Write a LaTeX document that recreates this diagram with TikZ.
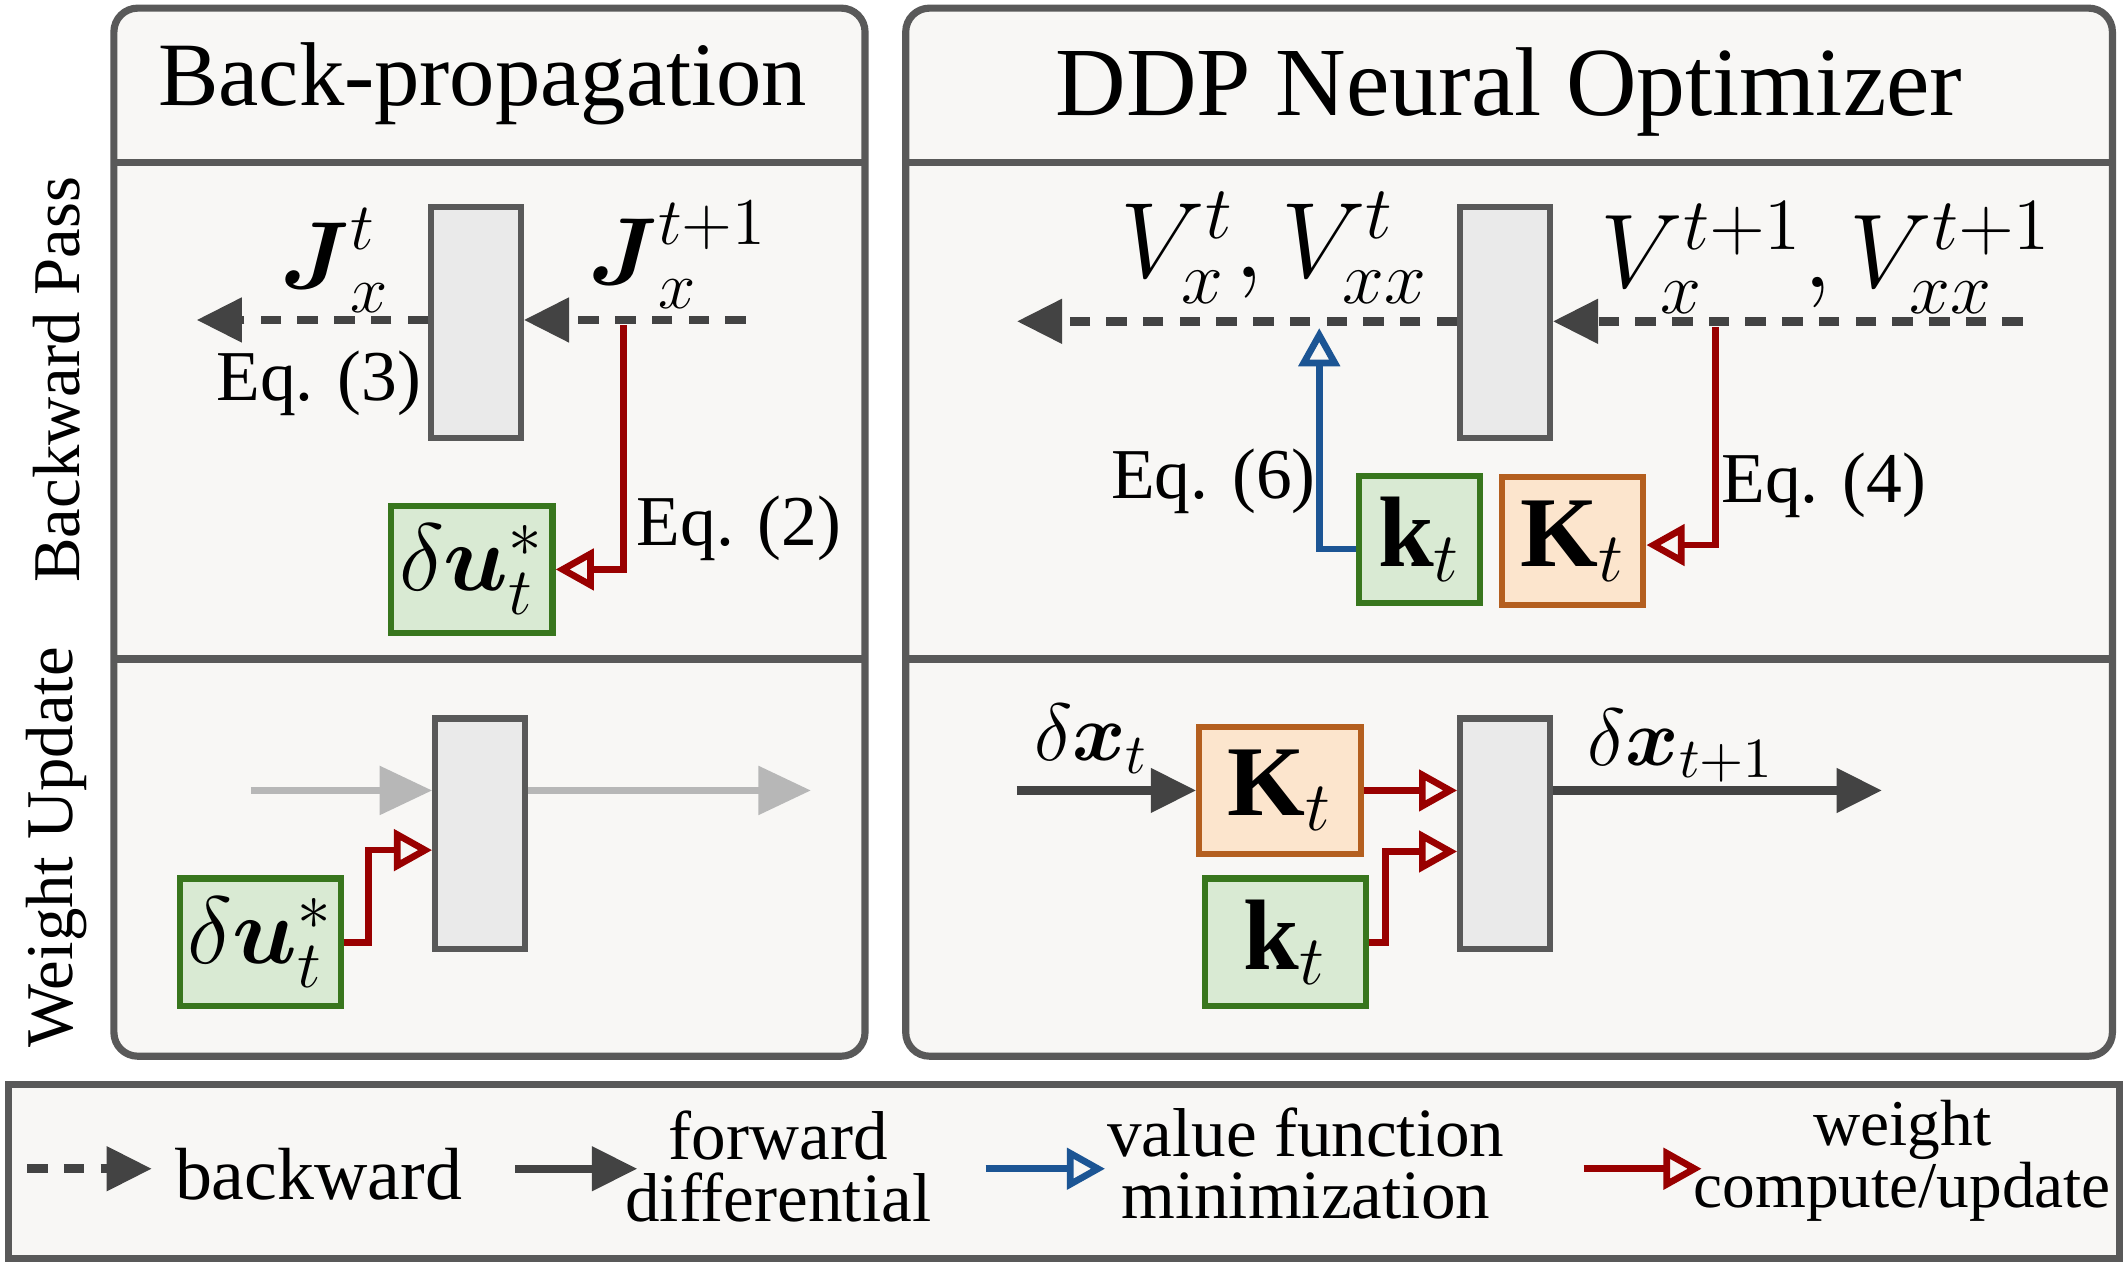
\RequirePackage{fix-cm}
\documentclass[tikz,border=0pt]{standalone}
\usepackage{amsmath, amsfonts}
\usepackage{fontspec}
\setmainfont{Liberation Serif}
\usetikzlibrary{positioning, arrows.meta, calc}

\definecolor{panelbg}{HTML}{F8F7F5}
\definecolor{edgegray}{HTML}{595959}
\definecolor{layerfill}{HTML}{EAEAEA}
\definecolor{arrowdark}{HTML}{434343}
\definecolor{arrowlight}{HTML}{B7B7B7}
\definecolor{kgreen}{HTML}{38761D}
\definecolor{kgreenbg}{HTML}{D9EAD3}
\definecolor{korange}{HTML}{B45F1F}
\definecolor{korangebg}{HTML}{FCE5CD}
\definecolor{updred}{HTML}{990000}
\definecolor{valblue}{HTML}{1C5594}

\begin{document}
\begin{tikzpicture}[x=0.01cm, y=-0.01cm]
\tikzset{
    every node/.style={align=center, inner sep=0pt},
    panel/.style={draw=edgegray, line width=1.5pt, fill=panelbg},
    layer/.style={draw=edgegray, line width=1.3pt, fill=layerfill, minimum width=0.66cm, minimum height=1.7cm},
    gbox/.style={draw=kgreen, fill=kgreenbg, line width=1.3pt, minimum width=1.19cm, minimum height=0.94cm},
    obox/.style={draw=korange, fill=korangebg, line width=1.3pt, minimum width=1.19cm, minimum height=0.94cm},
    bwd/.style={draw=arrowdark, line width=1.8pt, dash pattern=on 4.3pt off 3.4pt, -{Triangle[length=9.5pt, width=9pt]}},
    fwd/.style={draw=arrowdark, line width=1.7pt, -{Triangle[length=9.5pt, width=9pt]}},
    ghost/.style={draw=arrowlight, line width=1.4pt, -{Triangle[length=11pt, width=10pt]}},
    upd/.style={draw=updred, line width=1.4pt, -{Triangle[open, length=8pt, width=8.5pt]}},
    vmin/.style={draw=valblue, line width=1.4pt, -{Triangle[open, length=8pt, width=8.5pt]}},
    title/.style={font=\fontsize{20}{24}\selectfont},
    side/.style={font=\fontsize{14}{16}\selectfont, rotate=90},
    eqlbl/.style={font=\fontsize{15}{18}\selectfont},
    sym/.style={font=\fontsize{20}{24}\selectfont},
    boxsym/.style={font=\fontsize{21}{24}\selectfont},
    legend/.style={font=\fontsize{14.5}{13}\selectfont},
}

\useasboundingbox (0,0) rectangle (1568,934);
\fill[white] (0,0) rectangle (1568,934);

% panels
\draw[panel, rounded corners=5pt] (84,6) rectangle (638,779);
\draw[panel, rounded corners=5pt] (668,6) rectangle (1558,779);
\draw[panel] (6,800) rectangle (1563,928);
\draw[edgegray, line width=1.5pt] (84,120) -- (638,120) (84,486) -- (638,486);
\draw[edgegray, line width=1.5pt] (668,120) -- (1558,120) (668,486) -- (1558,486);

\node[title, font=\fontsize{19}{24}\selectfont] (bptitle) at (356,62) {Back-propagation};
\node[title, font=\fontsize{20.5}{24}\selectfont] (ddptitle) at (1113,68) {DDP Neural Optimizer};
\node[side] (bwdrow) at (42,280) {Backward Pass};
\node[side] (wurow) at (42,625) {Weight Update};

% Back-propagation, backward pass
\node[layer] (L1) at (351,238) {};
\coordinate (jin) at (550,236);
\coordinate (jout) at (145,236);
\draw[bwd] (jin) -- (jin -| L1.east);
\draw[bwd] (jin -| L1.west) -- (jout);
\node[sym] (Jt) at (247,192) {$\boldsymbol{J}^{t}_{x}$};
\node[sym] (Jt1) at (500,188) {$\boldsymbol{J}^{t+1}_{x}$};
\node[eqlbl] (eq3) at (235,283) {Eq. (3)};
\node[gbox, font=\fontsize{20}{24}\selectfont] (du1) at (348,420) {$\delta\boldsymbol{u}^{*}_{t}$};
\coordinate (tap1) at (460,240);
\draw[upd] (tap1) |- (du1.east);
\node[eqlbl] (eq2) at (545,390) {Eq. (2)};

% Back-propagation, weight update
\node[layer] (L2) at (354,615) {};
\coordinate (gin) at (185,583);
\coordinate (gout) at (598,583);
\draw[ghost] (gin) -- (gin -| L2.west);
\draw[ghost] (gin -| L2.east) -- (gout);
\node[gbox, font=\fontsize{20}{24}\selectfont] (du2) at (192,695) {$\delta\boldsymbol{u}^{*}_{t}$};
\draw[upd] (du2.east) -- ++(18,0) |- ([yshift=-0.12cm]L2.west);

% DDP, backward pass
\node[layer] (R1) at (1110,238) {};
\coordinate (vin) at (1492,237);
\coordinate (vout) at (750,237);
\draw[bwd] (vin) -- (vin -| R1.east);
\draw[bwd] (vin -| R1.west) -- (vout);
\node[sym, font=\fontsize{22.5}{26}\selectfont] (Vt) at (940,183) {$V^{t}_{x}, V^{t}_{xx}$};
\node[sym, font=\fontsize{22}{26}\selectfont] (Vt1) at (1347,190) {$V^{t+1}_{x}, V^{t+1}_{xx}$};
\node[gbox, boxsym, minimum width=0.89cm] (k1) at (1047,398) {$\mathbf{k}_t$};
\node[obox, boxsym, minimum width=1.04cm] (K1) at (1160,399) {$\mathbf{K}_t$};
\coordinate (vhit) at (973,242);
\draw[vmin] ([yshift=-0.07cm]k1.west) -| (vhit);
\coordinate (tap2) at (1265,241);
\draw[upd] (tap2) |- ([yshift=-0.03cm]K1.east);
\node[eqlbl] (eq6) at (895,355) {Eq. (6)};
\node[eqlbl] (eq4) at (1345,358) {Eq. (4)};

% DDP, weight update
\node[layer] (R2) at (1110,615) {};
\node[obox, boxsym] (K2) at (944,583) {$\mathbf{K}_t$};
\node[gbox, boxsym] (k2) at (948,695) {$\mathbf{k}_t$};
\coordinate (xin) at (750,583);
\coordinate (xout) at (1388,583);
\draw[fwd] (xin) -- (K2.west);
\draw[upd] (K2.east) -- (K2.east -| R2.west);
\draw[upd] (k2.east) -- ++(12,0) |- ([yshift=-0.13cm]R2.west);
\draw[fwd] (K2.east -| R2.east) -- (xout);
\node[sym, font=\fontsize{17}{20}\selectfont] (dxt) at (805,545) {$\delta\boldsymbol{x}_t$};
\node[sym, font=\fontsize{17}{20}\selectfont] (dxt1) at (1240,550) {$\delta\boldsymbol{x}_{t+1}$};

% legend
\coordinate (lgbs) at (20,862);
\coordinate (lgbe) at (112,862);
\coordinate (lgfs) at (380,862);
\coordinate (lgfe) at (470,862);
\coordinate (lgvs) at (727,862);
\coordinate (lgve) at (815,862);
\coordinate (lgws) at (1168,862);
\coordinate (lgwe) at (1255,862);
\draw[bwd] (lgbs) -- (lgbe);
\draw[fwd] (lgfs) -- (lgfe);
\draw[vmin] (lgvs) -- (lgve);
\draw[upd] (lgws) -- (lgwe);
\node[legend, font=\fontsize{15.5}{13}\selectfont] (lgb) at (235,866) {backward};
\node[legend] (lgf) at (574,860) {forward\\differential};
\node[legend] (lgv) at (963,858) {value function\\minimization};
\node[legend, font=\fontsize{13.7}{13}\selectfont] (lgw) at (1403,856) {weight\\compute/update};
\end{tikzpicture}
\end{document}
